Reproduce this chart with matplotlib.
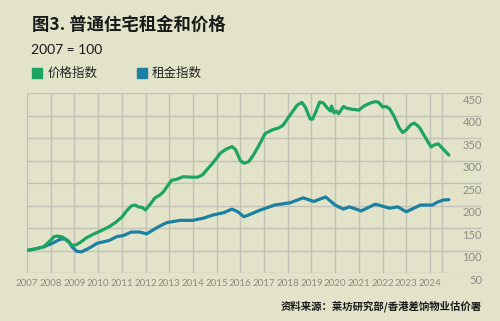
import matplotlib
matplotlib.use("Agg")
import matplotlib.pyplot as plt
import matplotlib.transforms as mtransforms
from matplotlib.patches import Rectangle

plt.rcParams['font.family'] = ['Noto Sans CJK SC', 'DejaVu Sans']

# Price index (green)
price_t = [2007.0, 2007.3, 2007.7, 2008.0, 2008.15, 2008.3, 2008.5, 2008.7, 2008.9, 2009.05,
           2009.25, 2009.5, 2009.75, 2010.0, 2010.25, 2010.5, 2010.75, 2011.0, 2011.2, 2011.4,
           2011.55, 2011.7, 2011.85, 2012.0, 2012.2, 2012.4, 2012.6, 2012.75, 2012.95, 2013.1,
           2013.3, 2013.6, 2013.9, 2014.2, 2014.4, 2014.6, 2014.8, 2015.0, 2015.15, 2015.4,
           2015.65, 2015.8, 2016.0, 2016.15, 2016.35, 2016.55, 2016.75, 2017.05, 2017.35, 2017.6,
           2017.8, 2018.1, 2018.4, 2018.6, 2018.75, 2018.95, 2019.05, 2019.2, 2019.35, 2019.5,
           2019.65, 2019.8, 2019.85, 2019.95, 2020.05, 2020.15, 2020.35, 2020.5, 2020.7, 2021.0,
           2021.25, 2021.5, 2021.7, 2021.85, 2022.0, 2022.15, 2022.3, 2022.5, 2022.7, 2022.85,
           2023.0, 2023.2, 2023.35, 2023.55, 2023.8, 2024.05, 2024.2, 2024.35, 2024.55, 2024.8]
price = [100, 103, 108, 123, 131, 132, 130, 121, 112, 112,
         118, 128, 135, 141, 147, 154, 163, 174, 188, 199,
         201, 197, 196, 190, 203, 217, 223, 230, 245, 256,
         258, 264, 263, 263, 268, 280, 292, 305, 316, 325,
         331, 324, 300, 294, 297, 312, 330, 360, 368, 372,
         378, 401, 423, 429, 418, 392, 392, 410, 430, 428,
         418, 410, 421, 406, 410, 404, 420, 416, 414, 412,
         422, 428, 431, 429, 419, 420, 415, 397, 373, 362,
         368, 380, 383, 374, 352, 330, 335, 337, 326, 312]

# Rent index (blue)
rent_t = [2007.0, 2007.4, 2007.75, 2008.1, 2008.4, 2008.6, 2008.75, 2008.9, 2009.1, 2009.3,
          2009.65, 2009.95, 2010.2, 2010.45, 2010.8, 2011.05, 2011.4, 2011.75, 2012.05, 2012.3,
          2012.55, 2012.9, 2013.45, 2014.0, 2014.45, 2014.85, 2015.3, 2015.65, 2015.9, 2016.15,
          2016.4, 2016.85, 2017.45, 2018.1, 2018.65, 2019.1, 2019.6, 2020.0, 2020.35, 2020.6,
          2021.1, 2021.7, 2022.3, 2022.65, 2023.0, 2023.6, 2024.1, 2024.3, 2024.55, 2024.8]
rent = [100, 104, 109, 117, 125, 126, 121, 108, 98, 97,
        106, 116, 119, 122, 131, 133, 141, 141, 137, 145,
        153, 162, 167, 167, 172, 179, 184, 192, 186, 175,
        180, 190, 201, 206, 217, 209, 219, 201, 192, 197,
        188, 203, 194, 197, 186, 201, 201, 207, 212, 213]

years = list(range(2007, 2025))
y_ticks = [50, 100, 150, 200, 250, 300, 350, 400, 450]

bg = '#e2e3c9'
grid_c = '#c2c2b6'
green = '#1ea462'
blue = '#1b80a2'
label_c = '#8c8c82'

fig = plt.figure(figsize=(5, 3.21), dpi=100, facecolor=bg)
ax = fig.add_axes([27 / 500, 1 - 273 / 321, (482 - 27) / 500, (273 - 93) / 321])
ax.set_facecolor(bg)
ax.set_xlim(2007, 2007 + (482 - 27) / 23.7)
ax.set_ylim(50, 450)
for s in ax.spines.values():
    s.set_visible(False)

for yv in y_ticks:
    ax.axhline(yv, color=grid_c, lw=1.0, zorder=1)
for xv in years + [2024.5]:
    ax.axvline(xv, color=grid_c, lw=1.0, zorder=1)

ax.plot(rent_t, rent, color=blue, lw=2.3, zorder=3, solid_capstyle='round')
ax.plot(price_t, price, color=green, lw=2.3, zorder=4, solid_capstyle='round')

ax.set_xticks(years)
ax.set_xticklabels([str(y) for y in years], family=['Lato', 'DejaVu Sans'], fontsize=7, color=label_c)
ax.tick_params(axis='x', length=0, pad=4)
ax.set_yticks([])

trans = mtransforms.blended_transform_factory(ax.transAxes, ax.transData)
for yv in y_ticks:
    ax.text(1.0, yv - 16, str(yv), transform=trans, ha='right', va='center',
            family=['Lato', 'DejaVu Sans'], fontsize=8, color=label_c)

fig.text(32 / 500, 1 - 25 / 321, '图3. 普通住宅租金和价格', fontsize=12.5, fontweight='bold',
         color='#1a1a1a', va='center', ha='left')
fig.text(31 / 500, 1 - 50 / 321, '2007 = 100', family=['Lato', 'DejaVu Sans'], fontsize=10,
         color='#1a1a1a', va='center', ha='left')

fig.patches.append(Rectangle((32 / 500, 1 - 78 / 321), 10 / 500, 10 / 321,
                             transform=fig.transFigure, color=green))
fig.text(48 / 500, 1 - 73 / 321, '价格指数', fontsize=9, color='#222222', va='center', ha='left')
fig.patches.append(Rectangle((137 / 500, 1 - 78 / 321), 10 / 500, 10 / 321,
                             transform=fig.transFigure, color=blue))
fig.text(152 / 500, 1 - 73 / 321, '租金指数', fontsize=9, color='#222222', va='center', ha='left')

fig.text(482 / 500, 1 - 306 / 321, '资料来源：莱坊研究部/香港差饷物业估价署', fontsize=7.5,
         fontweight='bold', color='#1a1a1a', va='center', ha='right')

fig.savefig('out.png', dpi=100, facecolor=bg)
